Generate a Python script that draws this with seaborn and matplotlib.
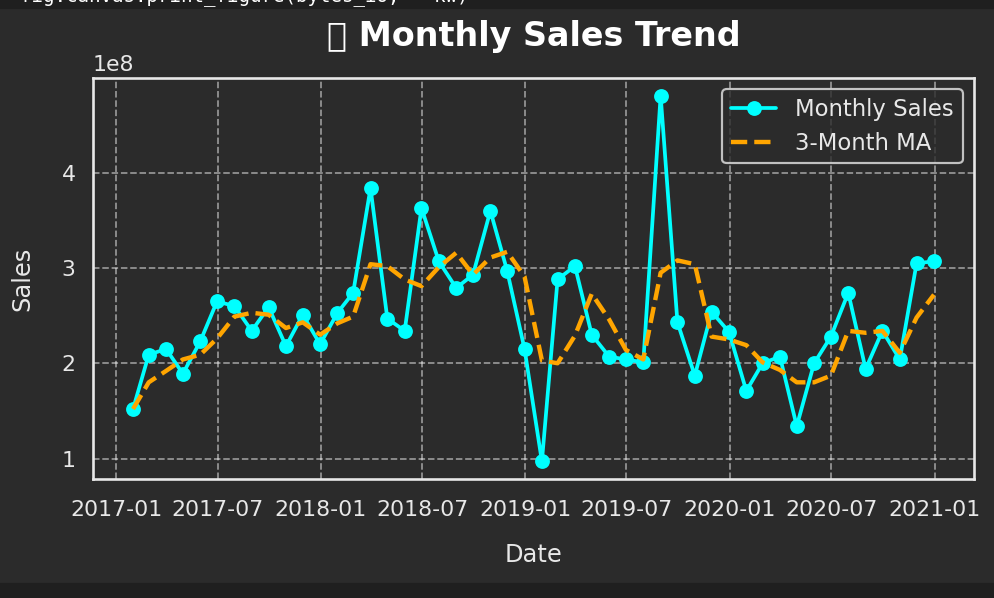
import pandas as pd
import matplotlib.pyplot as plt
import matplotlib.dates as mdates
from matplotlib.patches import Rectangle
from matplotlib.ticker import MultipleLocator
import seaborn as sns

# Values, in units of 1e8
sales = [1.52, 2.09, 2.15, 1.89, 2.23, 2.65, 2.60, 2.34, 2.59, 2.18, 2.51, 2.20,
         2.53, 2.74, 3.84, 2.47, 2.34, 3.63, 3.07, 2.79, 2.93, 3.60, 2.97, 2.15,
         0.97, 2.88, 3.02, 2.30, 2.07, 2.04, 2.01, 4.81, 2.43, 1.87, 2.54, 2.33,
         1.71, 2.00, 2.07, 1.34, 2.00, 2.28, 2.74, 1.94, 2.34, 2.04, 3.05, 3.07]
moving_avg = [1.52, 1.80, 1.92, 2.04, 2.09, 2.26, 2.49, 2.53, 2.51, 2.37, 2.43, 2.30,
              2.42, 2.49, 3.04, 3.02, 2.88, 2.81, 3.01, 3.16, 2.93, 3.11, 3.17, 2.91,
              2.03, 2.00, 2.29, 2.73, 2.46, 2.14, 2.04, 2.95, 3.08, 3.04, 2.28, 2.25,
              2.19, 2.01, 1.93, 1.80, 1.80, 1.87, 2.34, 2.32, 2.34, 2.11, 2.48, 2.72]
dates = pd.date_range("2017-01-31", "2020-12-31", freq="ME")

bg = "#2b2b2b"
strip = "#1f1f1f"
fg = "#e8e8e8"

sns.set_theme(style="darkgrid", rc={
    "figure.facecolor": bg,
    "axes.facecolor": bg,
    "axes.edgecolor": fg,
    "axes.labelcolor": fg,
    "text.color": "white",
    "xtick.color": fg,
    "ytick.color": fg,
    "grid.color": "white",
    "font.size": 10,
    "axes.labelsize": 11,
    "xtick.labelsize": 10,
    "ytick.labelsize": 10,
    "legend.fontsize": 10.4,
})
plt.rcParams["font.family"] = "DejaVu Sans"

df = pd.DataFrame({"Date": dates,
                   "Sales": [v * 1e8 for v in sales],
                   "MA": [v * 1e8 for v in moving_avg]})

fig, ax = plt.subplots(figsize=(994 / 158, 598 / 158), dpi=158)
fig.subplots_adjust(left=93 / 994, right=974 / 994, top=1 - 78 / 598, bottom=1 - 479 / 598)

sns.lineplot(data=df, x="Date", y="Sales", ax=ax, color="cyan", marker="o", linewidth=1.7,
             markersize=6, markeredgecolor="cyan", label="Monthly Sales")
sns.lineplot(data=df, x="Date", y="MA", ax=ax, color="orange", linestyle="--", linewidth=2,
             label="3-Month MA")

ax.xaxis.set_major_locator(mdates.MonthLocator(bymonth=[1, 7]))
ax.xaxis.set_major_formatter(mdates.DateFormatter("%Y-%m"))
ax.yaxis.set_major_locator(MultipleLocator(1e8))
ax.set_ylim(0.785e8, 4.995e8)
ax.grid(True, linestyle="--", linewidth=0.8, alpha=0.5)
ax.tick_params(length=0)
ax.tick_params(axis="x", pad=9.5)
ax.tick_params(axis="y", pad=8)
for spine in ax.spines.values():
    spine.set_linewidth(1.2)

# the emoji has no glyph in DejaVu, it comes out as an empty box like the original
ax.set_title("\U0001F4CA Monthly Sales Trend", fontsize=15.2, fontweight="bold", color="white", pad=14.5)
ax.set_xlabel("Date", labelpad=10.5)
ax.set_ylabel("Sales", labelpad=12.5)
ax.legend(loc="upper right", facecolor=bg, edgecolor=fg, labelcolor=fg, framealpha=0.8, labelspacing=0.47,
          handletextpad=0.83, borderpad=0.38)

# notebook strips above and below the output cell
fig.add_artist(Rectangle((0, 1 - 8 / 598), 1, 8 / 598, transform=fig.transFigure, color=strip, zorder=0))
fig.add_artist(Rectangle((0, 0), 1, 14 / 598, transform=fig.transFigure, color=strip, zorder=0))
fig.text(20 / 994, 1 - 1 / 598, "fig.canvas.print_figure(bytes_io, **kw)", family="DejaVu Sans Mono",
         fontsize=8.7, color="white", va="baseline")

fig.savefig("out.png", dpi=158, facecolor=bg)
